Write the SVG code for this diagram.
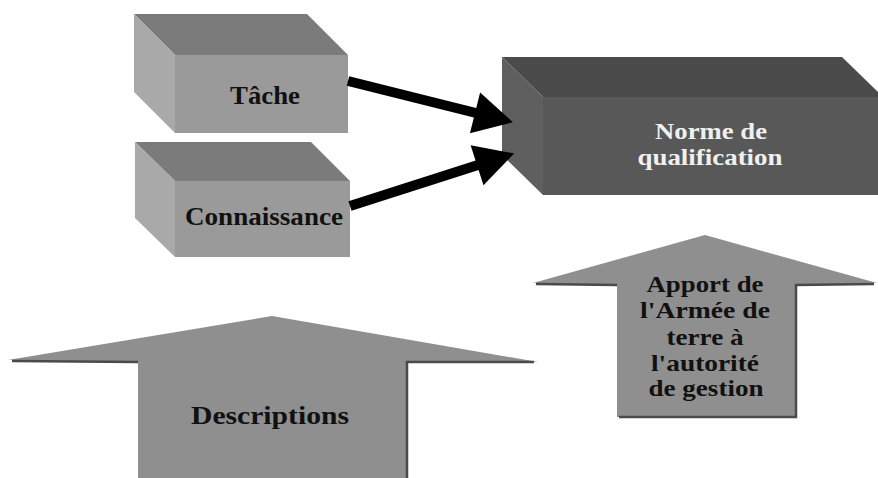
<svg xmlns="http://www.w3.org/2000/svg" width="878" height="478" viewBox="0 0 878 478">
  <style>
    .lbl { font-family: "Liberation Serif", "Times New Roman", serif; font-weight: bold; font-size: 23px; text-anchor: middle; fill: #111; }
    .wlbl { fill: #f0f0f0; }
    .top-l { fill: #7b7b7b; }
    .front-l { fill: #9a9a9a; }
    .side-l { fill: #a9a9a9; }
    .top-d { fill: #4b4b4b; }
    .front-d { fill: #585858; }
    .side-d { fill: #5f5f5f; }
    .arrowbody { fill: #8f8f8f; }
    .shadow { fill: none; stroke: #4a4a4a; stroke-width: 2.5; }
    .conn { stroke: #000; stroke-width: 10; fill: none; marker-end: url(#head); }
  </style>
  <defs>
    <marker id="head" markerUnits="userSpaceOnUse" markerWidth="44" markerHeight="46" viewBox="0 -23 42 46" refX="1" refY="0" orient="auto" overflow="visible">
      <path d="M0,-21 L39,0 L0,21 Z" fill="#000"/>
    </marker>
  </defs>
  <rect width="878" height="478" fill="#fff"/>

  <g id="tache">
    <polygon class="top-l" points="134,14 307,14 348,55 175,55"/>
    <polygon class="side-l" points="134,14 175,55 175,133 134,92"/>
    <rect class="front-l" x="175" y="55" width="173" height="78"/>
    <text class="lbl" x="265" y="104" textLength="70" lengthAdjust="spacingAndGlyphs" style="font-size:25px">Tâche</text>
  </g>

  <g id="connaissance">
    <polygon class="top-l" points="135,142 311,142 350,181 175,181"/>
    <polygon class="side-l" points="135,142 175,181 175,257 135,218"/>
    <rect class="front-l" x="175" y="181" width="175" height="76"/>
    <text class="lbl" x="264" y="225" textLength="158" lengthAdjust="spacingAndGlyphs" style="font-size:25px">Connaissance</text>
  </g>

  <g id="norme">
    <polygon class="top-d" points="502,57 842,57 883,97 543,97"/>
    <polygon class="side-d" points="502,57 543,97 543,195 502,155"/>
    <rect class="front-d" x="543" y="97" width="340" height="98"/>
    <text class="lbl wlbl" x="711" y="139" textLength="112" lengthAdjust="spacingAndGlyphs">Norme de</text>
    <text class="lbl wlbl" x="710" y="165" textLength="145" lengthAdjust="spacingAndGlyphs">qualification</text>
  </g>

  <g id="apport">
    <polygon class="arrowbody" points="705,235 877,283 796,285 796,417 617,417 617,285 533,283"/>
    <polyline class="shadow" points="536,284 617,285"/>
    <polyline class="shadow" points="874,284 796,285 796,417 619,417"/>
    <text class="lbl" x="705" y="292" textLength="117" lengthAdjust="spacingAndGlyphs">Apport de</text>
    <text class="lbl" x="705" y="318" textLength="130" lengthAdjust="spacingAndGlyphs">l'Armée de</text>
    <text class="lbl" x="705" y="345" textLength="77" lengthAdjust="spacingAndGlyphs">terre à</text>
    <text class="lbl" x="705" y="371" textLength="108" lengthAdjust="spacingAndGlyphs">l'autorité</text>
    <text class="lbl" x="706" y="396" textLength="115" lengthAdjust="spacingAndGlyphs">de gestion</text>
  </g>

  <g id="descriptions">
    <polygon class="arrowbody" points="272,316 538,362 407,362 407,478 138,478 138,362 8,360"/>
    <polyline class="shadow" points="12,361 138,362"/>
    <polyline class="shadow" points="534,362 407,362 407,478"/>
    <text class="lbl" x="270" y="424" textLength="158" lengthAdjust="spacingAndGlyphs" style="font-size:26px">Descriptions</text>
  </g>

  <g id="connectors">
    <line class="conn" x1="348" y1="81" x2="476" y2="113"/>
    <line class="conn" x1="350" y1="206" x2="478" y2="165"/>
  </g>
</svg>
